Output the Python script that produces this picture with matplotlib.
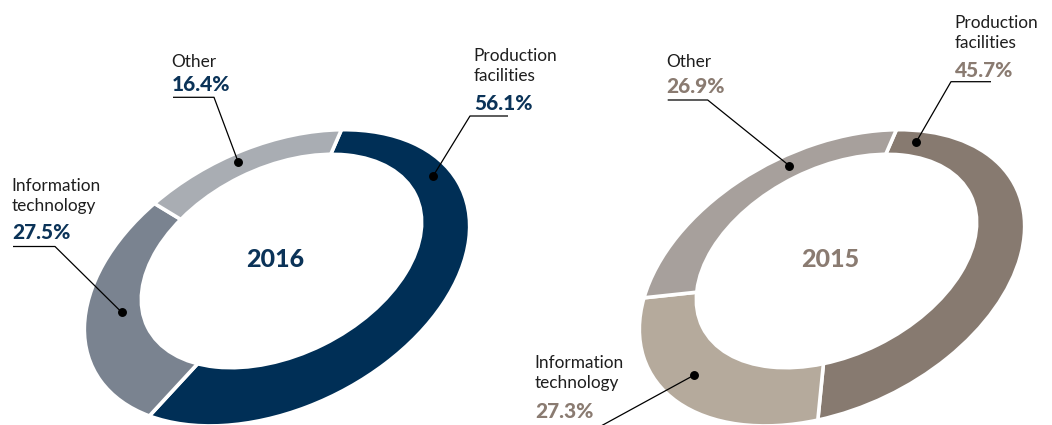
import matplotlib
matplotlib.use("Agg")
import matplotlib.pyplot as plt
from matplotlib.patches import Ellipse
from matplotlib.transforms import Affine2D

# ---- data -------------------------------------------------------------
categories = ["Production\nfacilities", "Information\ntechnology", "Other"]
years = ["2016", "2015"]
shares_2016 = [56.1, 27.5, 16.4]
shares_2015 = [45.7, 27.3, 26.9]

# ---- styling ----------------------------------------------------------
colors_2016 = ["#002F56", "#7A8390", "#A9ADB3"]
colors_2015 = ["#877A70", "#B5AA9C", "#A7A09C"]
accent = {"2016": "#0B3358", "2015": "#8A7B71"}
label_color = "#1E1E1E"
plt.rcParams["font.family"] = ["Lato", "DejaVu Sans"]

W, H = 1052, 425
fig = plt.figure(figsize=(W / 100, H / 100), dpi=100)
ax = fig.add_axes([0, 0, 1, 1])

# tilted ring geometry (pixel space, y grows downward)
OUTER = dict(a=205.0, b=130.5, tilt=26.3)
INNER = dict(a=151.2, b=95.2, tilt=26.3)
rings = {
    "2016": dict(outer=(277.0, 277.8), inner=(281.5, 261.0)),
    "2015": dict(outer=(832.0, 277.8), inner=(836.5, 261.0)),
}


def ring_transform(center, geo):
    return (Affine2D().scale(geo["a"], geo["b"]).rotate_deg(geo["tilt"])
            .scale(1, -1).translate(*center) + ax.transData)


# label layout: x, baseline of the name's last line, baseline of the value,
# leader (tail -> elbow -> dot)
layout = {
    "2016": [
        dict(x=473.5, name_y=81.0, pct_y=110.0, elbow=(470, 116), tail=(508, 116), dot=(433.3, 175.7)),
        dict(x=11.7, name_y=210.7, pct_y=238.5, elbow=(55, 246.5), tail=(13, 246.5), dot=(121.7, 312.3)),
        dict(x=171.5, name_y=67.3, pct_y=90.7, elbow=(214, 97.3), tail=(173, 97.3), dot=(238.3, 162.3)),
    ],
    "2015": [
        dict(x=954.3, name_y=48.3, pct_y=76.7, elbow=(951, 81.7), tail=(991, 81.7), dot=(916.0, 142.3)),
        dict(x=534.3, name_y=388.3, pct_y=418.3, elbow=(601, 426.0), tail=(534, 426.0), dot=(694.3, 375.0)),
        dict(x=666.0, name_y=66.7, pct_y=92.7, elbow=(707.7, 100.0), tail=(667.7, 100.0), dot=(789.3, 165.7)),
    ],
}

for year, shares, cols in [("2016", shares_2016, colors_2016),
                           ("2015", shares_2015, colors_2015)]:
    wedges, _ = ax.pie(shares, colors=cols, startangle=53, counterclock=False,
                       radius=1.0, center=(0, 0),
                       wedgeprops=dict(edgecolor="white", linewidth=2.6))
    for w in wedges:
        w.set_transform(ring_transform(rings[year]["outer"], OUTER))
    hole = Ellipse((0, 0), 2, 2, facecolor="white", edgecolor="none", zorder=3)
    hole.set_transform(ring_transform(rings[year]["inner"], INNER))
    ax.add_patch(hole)

    cx = rings[year]["inner"][0] - 6.5
    ax.text(cx, 267, year, ha="center", va="baseline", fontsize=18,
            fontweight="black", color=accent[year], zorder=5)

    for cat, val, lay in zip(categories, shares, layout[year]):
        tx = lay["x"]
        ax.text(tx, lay["name_y"], cat, ha="left", va="baseline", fontsize=12.4,
                color=label_color, linespacing=1.32, zorder=5)
        ax.text(tx + 0.5, lay["pct_y"], f"{val:.1f}%", ha="left", va="baseline",
                fontsize=15, fontweight="black", color=accent[year], zorder=5)
        ex, ey = lay["elbow"]
        dx, dy = lay["dot"]
        ax.plot([lay["tail"][0], ex, dx], [lay["tail"][1], ey, dy],
                color="black", lw=0.9, solid_capstyle="butt", zorder=6)
        ax.plot([dx], [dy], marker="o", ms=5.4, color="black", zorder=7)

ax.set_aspect("auto")
ax.set_xlim(0, W)
ax.set_ylim(H, 0)
ax.axis("off")
fig.savefig("out.png", dpi=100)
